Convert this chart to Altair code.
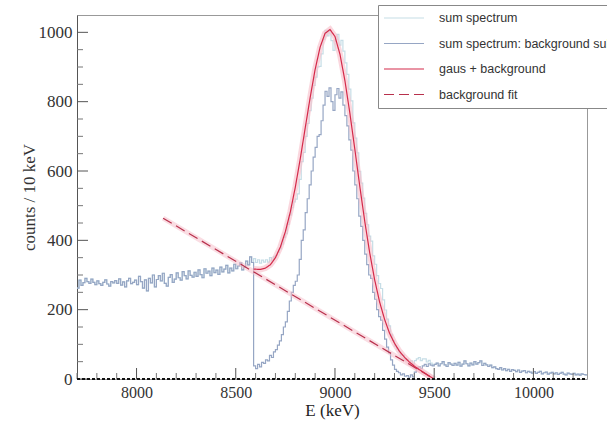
import altair as alt
import pandas as pd

# ---------------- data ----------------
bin_start = 7700
bin_width = 10

# background-subtracted sum spectrum (counts / 10 keV)
counts_left = [
    262, 285, 270, 278, 290, 281, 276, 288, 279, 272,
    283, 275, 270, 279, 286, 274, 268, 281, 277, 284,
    276, 289, 271, 280, 266, 283, 290, 275, 279, 285,
    272, 296, 281, 262, 286, 254, 290, 277, 300, 266,
    287, 298, 283, 305, 276, 268, 293, 301, 279, 288,
    306, 292, 285, 310, 298, 289, 312, 299, 294, 308,
    296, 315, 301, 292, 318, 305, 311, 298, 320, 307,
    314, 302, 323, 309, 317, 328, 306, 320, 312, 331,
    318, 326, 335, 315, 322, 340, 329, 352, 336,
]
counts_peak_sub = [
    38,
    30, 42, 35, 48, 45, 55, 52, 68, 62, 78,
    85, 98, 110, 128, 150, 165, 195, 225, 250, 270,
    282, 300, 345, 400, 430, 480, 520, 560, 600, 640,
    668, 700, 705, 745, 790, 830, 815, 840, 800, 775,
    820, 838, 810, 828, 790, 760, 730, 690, 660, 600,
    560, 520, 470, 440, 400, 360, 330, 300, 290, 250,
    230, 200, 180, 170, 140, 115, 92, 75, 55, 40,
    28, 22, 18, 12, 15, 8, 10, 5, 12, 6,
    20, 28, 35, 30, 38, 42, 36, 44, 40, 38,
]
counts_right = [
    42, 46, 38, 44, 50, 41, 36, 47, 43, 39,
    45, 40, 48, 37, 43, 52, 44, 38, 46, 41,
    50, 43, 47, 52, 39, 45, 41, 36, 40, 33,
    35, 30, 28, 33, 26, 30, 24, 28, 22, 27,
    25, 21, 26, 19, 23, 24, 18, 22, 20, 17,
    21, 16, 19, 22, 15, 18, 20, 14, 17, 19,
    15, 18, 13, 16, 19, 14, 12, 17, 15, 13,
    16, 12, 14, 11, 15, 13, 12,
]
# sum spectrum inside the fit window (outside it equals the subtracted one)
counts_peak_sum = [
    347,
    336, 344, 334, 343, 337, 344, 337, 350, 340, 353,
    357, 366, 375, 389, 408, 419, 446, 473, 494, 511,
    519, 534, 576, 627, 654, 700, 737, 774, 810, 847,
    871, 900, 902, 938, 980, 1006, 990, 1004, 976, 948,
    979, 994, 963, 977, 946, 912, 879, 836, 802, 739,
    695, 652, 599, 565, 522, 478, 445, 412, 398, 355,
    331, 298, 275, 261, 228, 199, 173, 153, 129, 111,
    95, 86, 79, 69, 69, 58, 57, 49, 52, 43,
    53, 58, 62, 53, 58, 58, 49, 54, 46, 41,
]

# gaus + background fit curve
fit_x = [8590, 8625, 8650, 8675, 8700, 8725, 8750, 8775, 8800, 8825, 8850,
         8875, 8900, 8925, 8950, 8975, 9000, 9025, 9050, 9075, 9100, 9125,
         9150, 9175, 9200, 9225, 9250, 9275, 9300, 9325, 9350, 9375, 9400,
         9425, 9450, 9475, 9500]
fit_y = [317, 316, 320, 330, 350, 381, 425, 482, 553, 635, 724,
         812, 893, 957, 997, 1008, 988, 937, 861, 767, 663, 556,
         455, 364, 286, 222, 172, 132, 103, 80, 63, 49, 37,
         27, 18, 8, 0]

# linear background fit
bg_x = [8134, 9500]
bg_y = [464, 0]

series_names = ["sum spectrum", "sum spectrum: background subtracted",
                "gaus + background", "background fit"]

y_major = [0, 200, 400, 600, 800, 1000]
y_minor = [v for v in range(50, 1050, 50) if v % 200 != 0]
x_major = [8000, 8500, 9000, 9500, 10000]
x_minor = [v for v in range(7700, 10300, 100) if v % 500 != 0]

X_DOMAIN = [7700, 10270]
Y_DOMAIN = [0, 1050]

# ---------------- tables ----------------
sub_counts = counts_left + counts_peak_sub + counts_right
sum_counts = counts_left + counts_peak_sum + counts_right


def hist_frame(vals, name):
    xs = [bin_start + i * bin_width for i in range(len(vals))]
    xs.append(bin_start + len(vals) * bin_width)
    ys = list(vals) + [vals[-1]]
    return pd.DataFrame({"E": xs, "counts": ys, "series": name})


df_sum = hist_frame(sum_counts, series_names[0])
df_sub = hist_frame(sub_counts, series_names[1])
df_fit = pd.DataFrame({"E": fit_x, "counts": fit_y, "series": series_names[2]})
df_bg = pd.DataFrame({"E": bg_x, "counts": bg_y, "series": series_names[3]})

xscale = alt.Scale(domain=X_DOMAIN, nice=False, zero=False)
yscale = alt.Scale(domain=Y_DOMAIN, nice=False)

serif = "Liberation Serif"

x_enc = alt.X("E:Q", scale=xscale, axis=alt.Axis(
    values=x_major, format="d", ticks=False, grid=False,
    labelFont=serif, labelFontSize=16, labelColor="#333", labelPadding=5,
    domain=False, title="E (keV)", titleFont=serif, titleFontSize=17,
    titleFontWeight="normal", titleColor="#222", titlePadding=2))
y_enc = alt.Y("counts:Q", scale=yscale, axis=alt.Axis(
    values=y_major, format="d", ticks=False, grid=False,
    labelFont=serif, labelFontSize=17, labelColor="#333", labelPadding=5,
    domainColor="#555", title="counts / 10 keV", titleFont=serif,
    titleFontSize=17, titleFontWeight="normal", titleColor="#333",
    titlePadding=0))

color_enc = alt.Color("series:N", title=None, scale=alt.Scale(
    domain=series_names, range=["#c6dde6", "#96a6c4", "#d42a4a", "#b8304c"]),
    legend=alt.Legend(orient="none", legendX=301, legendY=-10,
                      fillColor="white", strokeColor="#888", padding=5,
                      symbolType="stroke", symbolSize=1600, clipHeight=16,
                      rowPadding=9.5, labelOffset=14, labelFont="Liberation Sans",
                      labelFontSize=12.5, labelColor="#333", labelLimit=400))
dash_enc = alt.StrokeDash("series:N", title=None, scale=alt.Scale(
    domain=series_names, range=[[1, 0], [1, 0], [1, 0], [10, 5]]))
width_enc = alt.StrokeWidth("series:N", title=None, scale=alt.Scale(
    domain=series_names, range=[1.2, 1.2, 2, 2]))


def series_layer(df, interp):
    return alt.Chart(df).mark_line(interpolate=interp, clip=True).encode(
        x=x_enc, y=y_enc, color=color_enc, strokeDash=dash_enc,
        strokeWidth=width_enc)


halo_fit = alt.Chart(df_fit).mark_line(color="#f6bcc8", strokeWidth=6,
                                       opacity=0.6, clip=True).encode(x=x_enc, y=y_enc)
halo_bg = alt.Chart(df_bg).mark_line(color="#f6bcc8", strokeWidth=5,
                                     opacity=0.5, clip=True).encode(x=x_enc, y=y_enc)

zero_df = pd.DataFrame({"E": X_DOMAIN, "counts": [0, 0]})
zero_line = alt.Chart(zero_df).mark_line(color="#111", strokeWidth=2.2,
                                         strokeDash=[3, 2]).encode(x=x_enc, y=y_enc)

ymaj = alt.Chart(pd.DataFrame({"v": y_major})).mark_rule(color="#555").encode(
    y=alt.Y("v:Q", scale=yscale), x=alt.value(0), x2=alt.value(11))
ymin = alt.Chart(pd.DataFrame({"v": y_minor})).mark_rule(color="#777").encode(
    y=alt.Y("v:Q", scale=yscale), x=alt.value(0), x2=alt.value(6))
xmaj = alt.Chart(pd.DataFrame({"v": x_major})).mark_rule(color="#555").encode(
    x=alt.X("v:Q", scale=xscale), y=alt.value(364), y2=alt.value(353))
xmin = alt.Chart(pd.DataFrame({"v": x_minor})).mark_rule(color="#777").encode(
    x=alt.X("v:Q", scale=xscale), y=alt.value(364), y2=alt.value(358))

chart = alt.layer(
    series_layer(df_sum, "step-after"),
    series_layer(df_sub, "step-after"),
    halo_bg, halo_fit,
    series_layer(df_bg, "linear"),
    series_layer(df_fit, "linear"),
    ymaj, ymin, xmaj, xmin,
    zero_line,
).properties(
    width=510, height=364,
    padding={"left": 77, "top": 15, "right": 20, "bottom": 48},
    autosize=alt.AutoSizeParams(type="none"),
    background="white",
).configure_view(stroke="#999", strokeWidth=1)

chart.save("out.html", embed_options={"renderer": "svg", "actions": False})
